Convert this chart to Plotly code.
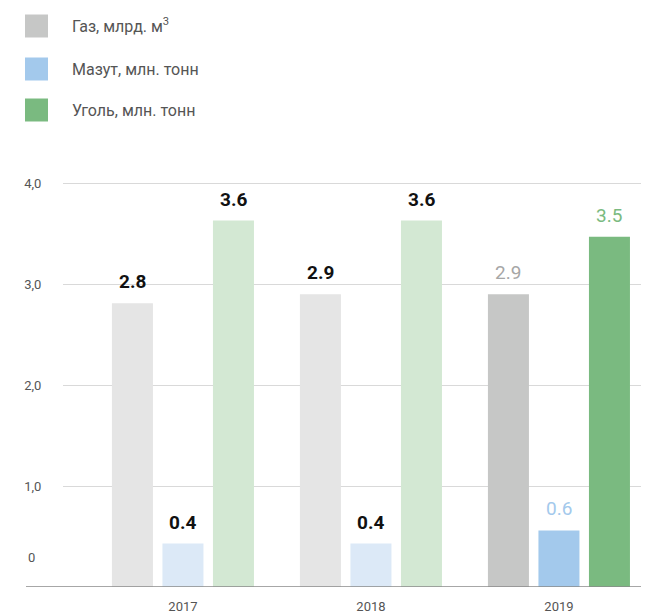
import plotly.graph_objects as go

years = ['2017', '2018', '2019']
series_names = ['Газ, млрд. м<sup>3</sup>', 'Мазут, млн. тонн', 'Уголь, млн. тонн']
gas = [2.81, 2.90, 2.90]
mazut = [0.43, 0.43, 0.56]
coal = [3.63, 3.63, 3.47]
gas_labels = ['2.8', '2.9', '2.9']
mazut_labels = ['0.4', '0.4', '0.6']
coal_labels = ['3.6', '3.6', '3.5']
ytick_vals = [1, 2, 3, 4]
ytick_text = ['1,0', '2,0', '3,0', '4,0']

# light colours for past years, full colours for the last one
light = ['#e5e5e5', '#dce9f7', '#d3e8d3']
full = ['#c6c7c6', '#a3c9ec', '#7aba80']
label_full = ['#a6a6a6', '#a3c9ec', '#7aba80']

FONT = 'Roboto, sans-serif'
OFF = 8  # page body margin
W, H = 649 - OFF, 615 - OFF
L, R, T, B = 63 - OFF, 649 - OFF, 163 - OFF, 587 - OFF


def px(x):
    return (x - OFF - L) / (R - L)


def py(y):
    return (B - (y - OFF)) / (B - T)


bargap = 0.194
slot = (1 - bargap) / 3

fig = go.Figure()
all_vals = [gas, mazut, coal]
all_labels = [gas_labels, mazut_labels, coal_labels]
for j, vals in enumerate(all_vals):
    colors = [light[j]] * (len(years) - 1) + [full[j]]
    fig.add_trace(go.Bar(x=years, y=vals, marker=dict(color=colors, line_width=0),
                         name=series_names[j], showlegend=False, hoverinfo='skip'))

annotations = []
shapes = []
for j, vals in enumerate(all_vals):
    for i, v in enumerate(vals):
        last = i == len(years) - 1
        annotations.append(dict(
            x=i + (j - 1) * slot, y=v, xref='x', yref='y',
            text='<b>' + all_labels[j][i] + '</b>' if not last else all_labels[j][i],
            showarrow=False, yanchor='bottom', yshift=8,
            font=dict(family=FONT, size=19,
                      color=label_full[j] if last else '#111111')))

# legend
for j, name in enumerate(series_names):
    cy = [26, 69, 110][j]
    shapes.append(dict(type='rect', xref='paper', yref='paper',
                       x0=px(25), x1=px(48), y0=py(cy - 11.5), y1=py(cy + 11.5),
                       fillcolor=full[j], line_width=0))
    annotations.append(dict(x=px(70), y=py(cy), xref='paper', yref='paper',
                            text=name, showarrow=False, xanchor='left', yanchor='middle',
                            font=dict(family=FONT, size=16, color='#555555')))

# zero label sits above the baseline
annotations.append(dict(x=px(26), y=0.297, xref='paper', yref='y', text='0',
                        showarrow=False, xanchor='left', yanchor='middle',
                        font=dict(family=FONT, size=13, color='#555555')))

# baseline
shapes.append(dict(type='line', xref='paper', yref='y', x0=px(26), x1=1, y0=0, y1=0,
                   line=dict(color='#8a8a8a', width=1.5)))

fig.update_layout(
    width=W, height=H,
    margin=dict(l=L, r=W - R, t=T, b=H - B, pad=0),
    plot_bgcolor='white', paper_bgcolor='white',
    barmode='group', bargap=bargap, bargroupgap=0.188,
    annotations=annotations, shapes=shapes,
    font=dict(family=FONT, color='#555555'),
)
fig.update_xaxes(range=[-0.638, 2.479], showgrid=False, showline=False, zeroline=False,
                 ticks='outside', ticklen=7, tickcolor='rgba(0,0,0,0)',
                 tickfont=dict(family=FONT, size=13, color='#555555'))
fig.update_yaxes(range=[0, 4.2], tickvals=ytick_vals, ticktext=ytick_text,
                 showgrid=True, gridcolor='#d9d9d9', gridwidth=1, zeroline=False,
                 ticks='outside', ticklen=18, tickcolor='rgba(0,0,0,0)',
                 tickfont=dict(family=FONT, size=13, color='#555555'))

fig.write_html('out.html')
